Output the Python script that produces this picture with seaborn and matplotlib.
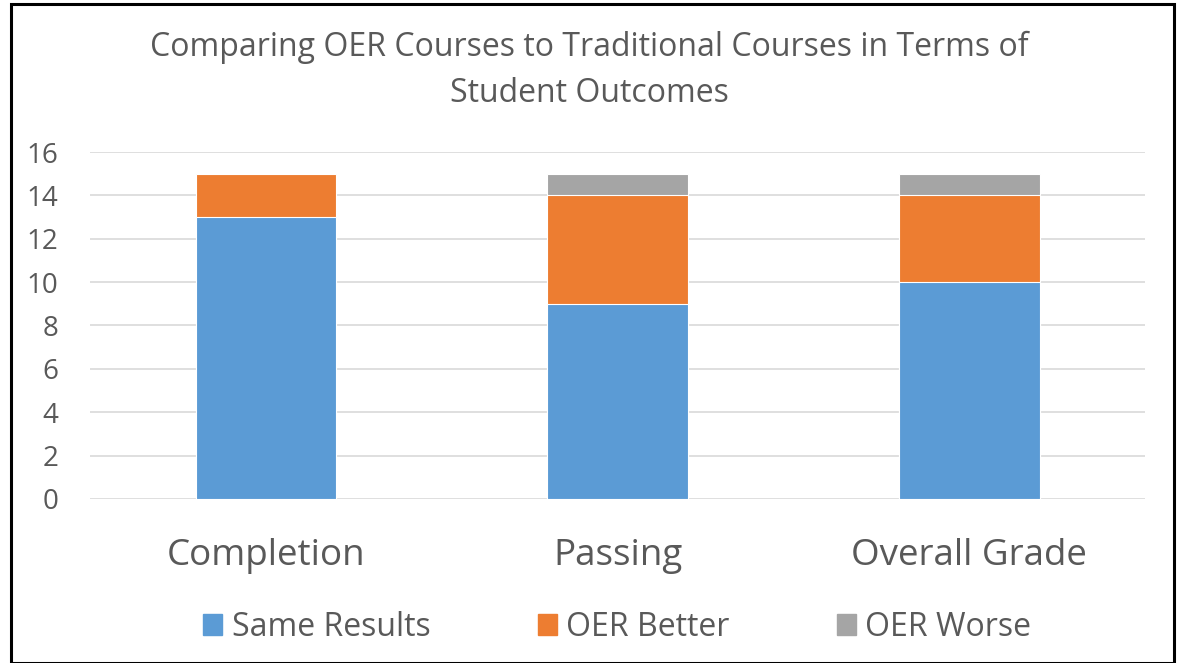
import pandas as pd
import numpy as np
import matplotlib.pyplot as plt
import seaborn as sns
from matplotlib.patches import Rectangle

"""Data read off the chart"""
categories = ["Completion", "Passing", "Overall Grade"]
same_results = [13, 9, 10]
oer_better = [2, 5, 4]
oer_worse = [0, 1, 1]
series_names = ["Same Results", "OER Better", "OER Worse"]
colors = ["#5B9BD5", "#ED7D31", "#A5A5A5"]

sns.set_theme(style="white")
plt.rcParams['font.family'] = ['Open Sans', 'DejaVu Sans']
text_color = "#595959"

df = pd.DataFrame({"category": categories,
                   "same": same_results,
                   "better": oer_better,
                   "worse": oer_worse})
# cumulative heights so bars can be layered from the top down
df["top_better"] = df["same"] + df["better"]
df["top_worse"] = df["top_better"] + df["worse"]

fig = plt.figure(figsize=(11.78, 6.63), dpi=100)
ax = fig.add_axes([0.0764, 0.2474, 0.8956, 0.5233])

for col, color, name in zip(["top_worse", "top_better", "same"], colors[::-1], series_names[::-1]):
    sns.barplot(data=df, x="category", y=col, color=color, width=0.4,
                saturation=1, edgecolor="white", linewidth=0.8, ax=ax, zorder=3)

ax.set_ylim(0, 16)
ax.set_yticks(range(0, 17, 2))
ax.set_xlim(-0.5, 2.5)
ax.grid(axis="y", color="#D9D9D9", linewidth=1.2, zorder=0)
ax.set_axisbelow(True)
for s in ax.spines.values():
    s.set_visible(False)
ax.set_xlabel("")
ax.set_ylabel("")
ax.tick_params(axis="y", labelsize=20, labelcolor=text_color, length=0, pad=23)
ax.tick_params(axis="x", labelsize=26.5, labelcolor=text_color, length=0, pad=28)

fig.text(0.5, 0.894, "Comparing OER Courses to Traditional Courses in Terms of\nStudent Outcomes",
         ha="center", va="center", fontsize=23, color=text_color, linespacing=1.5)

handles = [Rectangle((0, 0), 1, 1, color=c) for c in colors]
fig.legend(handles, series_names, loc="center", bbox_to_anchor=(0.524, 0.054), ncol=3,
           frameon=False, fontsize=23, labelcolor=text_color, handlelength=0.6,
           handleheight=0.6, handletextpad=0.3, columnspacing=3.35)

# chart frame
fig.patches.append(Rectangle((0.009, 0.0), 0.988, 0.994, transform=fig.transFigure,
                             fill=False, edgecolor="black", linewidth=2.2))

fig.savefig("out.png", dpi=100)
